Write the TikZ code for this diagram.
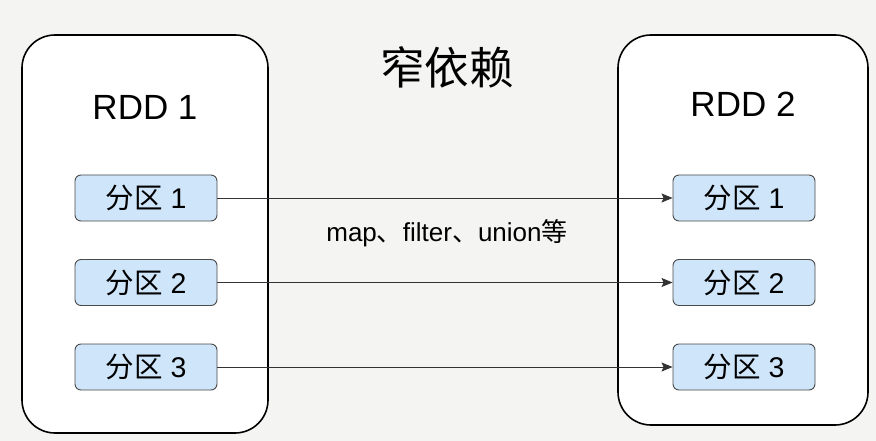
\documentclass[tikz,border=0pt]{standalone}
\usepackage{fontspec}
\setmainfont{Liberation Sans}
\newfontfamily\cjk{Noto Sans CJK SC}
\usetikzlibrary{arrows.meta}
\definecolor{bg}{HTML}{F4F4F2}
\definecolor{partfill}{HTML}{CFE5FA}
\definecolor{partdraw}{HTML}{4A4A4A}
\definecolor{linecol}{HTML}{333333}
\tikzset{
  rddbox/.style={draw=black, line width=1.6pt, fill=white, rounded corners=33pt, inner sep=0pt},
  partbox/.style={draw=partdraw, line width=0.9pt, fill=partfill, rounded corners=6pt,
    minimum width=142pt, minimum height=46pt, inner sep=0pt,
    font=\fontsize{28.5}{32}\selectfont},
  rddlabel/.style={font=\fontsize{35}{40}\selectfont, inner sep=0pt},
  conn/.style={draw=linecol, line width=0.9pt, -{Stealth[length=11pt, width=9pt, inset=2pt]}}
}
\begin{document}
\begin{tikzpicture}[x=1pt, y=-1pt]
  \fill[bg] (0,0) rectangle (876,441);
  \useasboundingbox (0,0) rectangle (876,441);
  \node[rddbox, minimum width=246pt, minimum height=398pt] (rdd1) at (145,234) {};
  \node[rddbox, minimum width=250pt, minimum height=390pt] (rdd2) at (743,230) {};
  \node[rddlabel] (l1) at (145,107) {RDD 1};
  \node[rddlabel] (l2) at (743,104) {RDD 2};
  \node[font=\fontsize{44.5}{50}\cjk, inner sep=0pt] (title) at (447,67) {窄依赖};
  \node[partbox] (a1) at (146,198) {{\cjk 分区} 1};
  \node[partbox] (a2) at (146,282.5) {{\cjk 分区} 2};
  \node[partbox] (a3) at (146,367) {{\cjk 分区} 3};
  \node[partbox] (b1) at (744,198) {{\cjk 分区} 1};
  \node[partbox] (b2) at (744,282.5) {{\cjk 分区} 2};
  \node[partbox] (b3) at (744,367) {{\cjk 分区} 3};
  \draw[conn] (a1) -- (b1);
  \draw[conn] (a2) -- (b2);
  \draw[conn] (a3) -- (b3);
  \node[font=\fontsize{26}{30}\selectfont, inner sep=0pt] (ops) at (447,233) {map{\cjk 、}filter{\cjk 、}union{\cjk 等}};
\end{tikzpicture}
\end{document}
